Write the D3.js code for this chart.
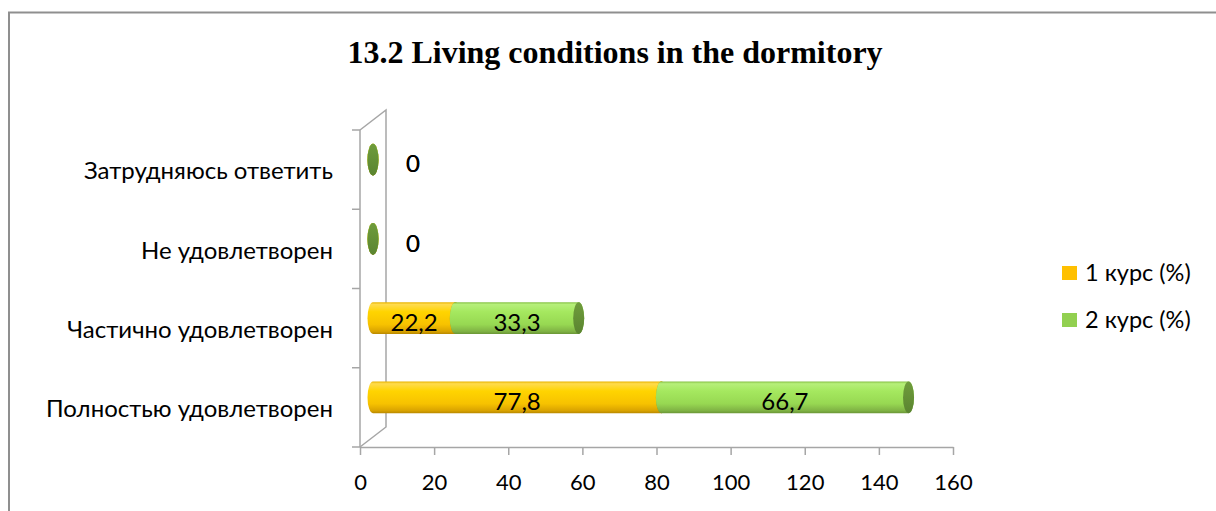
<!DOCTYPE html>
<html>
<head>
<meta charset="utf-8">
<script src="https://cdn.jsdelivr.net/npm/d3@7"></script>
<style>
  body { margin: 0; background: #fff; }
  svg { display: block; }
</style>
</head>
<body>
<div id="chart"></div>
<script>
// data (top category first)
var categories = ["Затрудняюсь ответить", "Не удовлетворен", "Частично удовлетворен", "Полностью удовлетворен"];
var series = ["1 курс (%)", "2 курс (%)"];
var course1 = [0, 0, 22.2, 77.8];
var course2 = [0, 0, 33.3, 66.7];
var xTicks = [0, 20, 40, 60, 80, 100, 120, 140, 160];
var title = "13.2 Living conditions in the dormitory";

function drawChart() {
  var W = 1216, H = 511;
  var plotLeft = 360, plotRight = 953, plotTop = 130, plotBottom = 447;
  var depthX = 26, depthY = 20;              // 3d wall depth
  var offX = depthX / 2, offY = depthY / 2;  // bars sit half way in
  var font = "Lato, 'Noto Sans', sans-serif";

  var svg = d3.select("#chart").append("svg")
      .attr("width", W)
      .attr("height", H);

  // outer frame
  svg.append("rect")
      .attr("x", 9).attr("y", 12.5)
      .attr("width", W).attr("height", H)
      .attr("fill", "none")
      .attr("stroke", "#8f8f8f")
      .attr("stroke-width", 2);

  svg.append("text")
      .attr("x", 615).attr("y", 63)
      .attr("text-anchor", "middle")
      .style("font-family", "'Liberation Serif', 'Times New Roman', serif")
      .style("font-weight", "bold")
      .style("font-size", "32px")
      .text(title);

  // scales
  var x = d3.scaleLinear().domain([0, 160]).range([plotLeft, plotRight]);
  var y = d3.scaleBand().domain(categories).range([plotTop, plotBottom])
      .paddingInner(0.6).paddingOuter(0.3);

  // gradients
  var defs = svg.append("defs");
  function grad(id, stops) {
    var g = defs.append("linearGradient").attr("id", id)
        .attr("x1", 0).attr("y1", 0).attr("x2", 0).attr("y2", 1);
    stops.forEach(function(s) {
      g.append("stop").attr("offset", s[0]).attr("stop-color", s[1]);
    });
  }
  grad("g1", [[0, "#e8b400"], [0.07, "#ffdb4d"], [0.3, "#ffd400"], [0.7, "#f7c200"], [0.92, "#d9a300"], [1, "#b88800"]]);
  grad("g2", [[0, "#86c245"], [0.07, "#b6ef7a"], [0.3, "#a5e85f"], [0.7, "#97d852"], [0.92, "#7fb244"], [1, "#6a9636"]]);
  grad("c1", [[0, "#d9a200"], [1, "#b58300"]]);
  grad("c2", [[0, "#6f9c3c"], [1, "#5a8430"]]);

  // 3d wall and axes
  var axisColor = "#a6a6a6";
  var walls = svg.append("g")
      .attr("stroke", axisColor)
      .attr("stroke-width", 1.5)
      .attr("fill", "none");
  walls.append("path")
      .attr("d", "M" + plotLeft + "," + plotTop + "L" + (plotLeft + depthX) + "," + (plotTop - depthY) +
                 "V" + (plotBottom - depthY) + "L" + plotLeft + "," + plotBottom);
  walls.append("line")
      .attr("x1", plotLeft).attr("x2", plotLeft).attr("y1", plotTop).attr("y2", plotBottom);
  // category boundary ticks
  d3.range(categories.length + 1).forEach(function(i) {
    var yy = plotTop + i * y.step();
    walls.append("line")
        .attr("x1", plotLeft - 8).attr("x2", plotLeft)
        .attr("y1", yy).attr("y2", yy);
  });

  // category labels
  var yAxis = svg.append("g")
      .attr("transform", "translate(" + plotLeft + ",2)")
      .call(d3.axisLeft(y).tickSize(0).tickPadding(27));
  yAxis.select(".domain").remove();
  yAxis.selectAll("text")
      .style("font-family", font)
      .style("font-size", "24px")
      .attr("fill", "#000");

  // value axis
  var xAxis = svg.append("g")
      .attr("transform", "translate(0," + plotBottom + ")")
      .call(d3.axisBottom(x).tickValues(xTicks).tickSize(8).tickSizeOuter(0).tickPadding(19));
  xAxis.select(".domain").attr("stroke", axisColor).attr("stroke-width", 1.5);
  xAxis.selectAll("line").attr("stroke", axisColor).attr("stroke-width", 1.5);
  xAxis.selectAll("text")
      .style("font-family", font)
      .style("font-size", "22px")
      .attr("fill", "#000");

  // stacked cylinders
  var rows = categories.map(function(c, i) {
    return {cat: c, vals: [course1[i], course2[i]]};
  });
  var rx = 5.5;
  var bars = svg.append("g").attr("transform", "translate(" + offX + "," + (-offY) + ")");
  rows.forEach(function(r) {
    var cy = y(r.cat) + y.bandwidth() / 2;
    var ry = y.bandwidth() / 2;
    var start = 0;
    r.vals.forEach(function(v, k) {
      var xa = x(start), xb = x(start + v);
      var d = "M" + xa + "," + (cy - ry) + "L" + xb + "," + (cy - ry) +
              "A" + rx + "," + ry + " 0 0 1 " + xb + "," + (cy + ry) +
              "L" + xa + "," + (cy + ry) +
              "A" + rx + "," + ry + " 0 0 1 " + xa + "," + (cy - ry) + "Z";
      bars.append("path").attr("d", d).attr("fill", "url(#g" + (k + 1) + ")");
      bars.append("ellipse")
          .attr("cx", xb).attr("cy", cy)
          .attr("rx", rx).attr("ry", ry)
          .attr("fill", "url(#c" + (k + 1) + ")");
      start += v;
    });
  });

  // data labels
  rows.forEach(function(r) {
    var cy = y(r.cat) + y.bandwidth() / 2 - offY;
    var start = 0;
    r.vals.forEach(function(v) {
      var lx = v === 0 ? x(start) + offX + 40 : (x(start) + x(start + v)) / 2 + offX;
      svg.append("text")
          .attr("x", lx).attr("y", cy + 4)
          .attr("dy", "0.36em")
          .attr("text-anchor", "middle")
          .style("font-family", font)
          .style("font-size", "24px")
          .text(String(v).replace(".", ","));
      start += v;
    });
  });

  // legend
  var colors = ["#ffc000", "#92d050"];
  var legend = svg.append("g");
  series.forEach(function(s, i) {
    var ly = 266 + i * 47;
    legend.append("rect")
        .attr("x", 1062).attr("y", ly)
        .attr("width", 15).attr("height", 14)
        .attr("fill", colors[i]);
    legend.append("text")
        .attr("x", 1085).attr("y", ly + 15)
        .style("font-family", font)
        .style("font-size", "23.5px")
        .text(s);
  });
}

drawChart();
</script>
</body>
</html>
